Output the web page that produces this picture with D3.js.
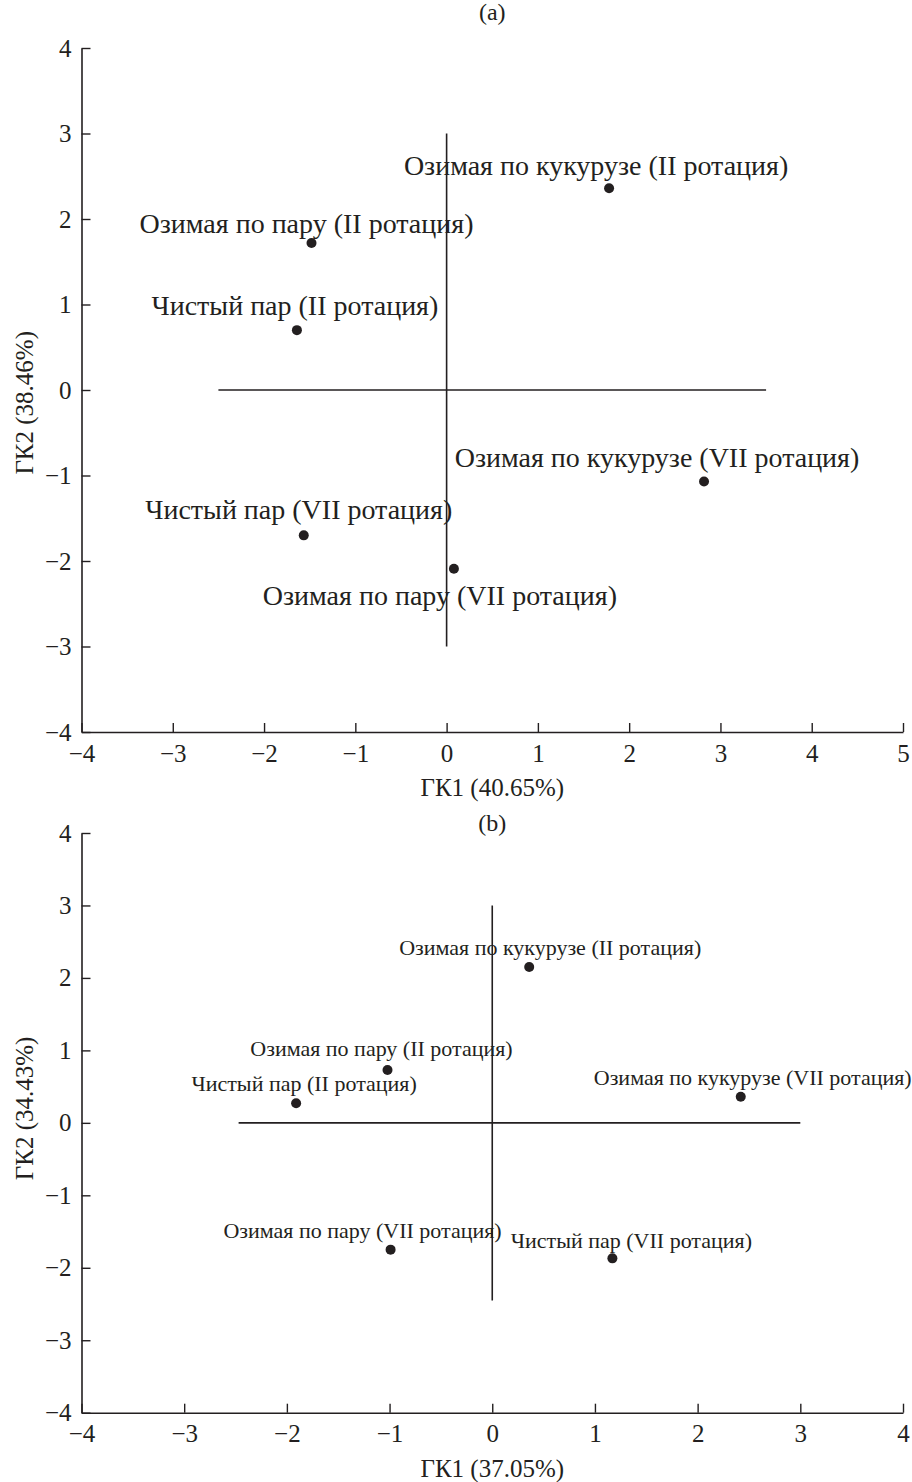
<!DOCTYPE html>
<html>
<head>
<meta charset="utf-8">
<script src="https://cdn.jsdelivr.net/npm/d3@7"></script>
<style>
  html, body { margin: 0; padding: 0; background: #fff; }
  svg { display: block; font-family: "Liberation Serif", "Times New Roman", serif; }
</style>
</head>
<body>
<script>
// ---- Panel (a) data ----
const namesA = [
  "Озимая по кукурузе (II ротация)",
  "Озимая по пару (II ротация)",
  "Чистый пар (II ротация)",
  "Озимая по кукурузе (VII ротация)",
  "Чистый пар (VII ротация)",
  "Озимая по пару (VII ротация)"
];
const gk1A = [1.78, -1.48, -1.64, 2.82, -1.565, 0.08];
const gk2A = [2.36, 1.72, 0.70, -1.07, -1.70, -2.09];

// ---- Panel (b) data ----
const namesB = [
  "Озимая по кукурузе (II ротация)",
  "Озимая по пару (II ротация)",
  "Чистый пар (II ротация)",
  "Озимая по кукурузе (VII ротация)",
  "Озимая по пару (VII ротация)",
  "Чистый пар (VII ротация)"
];
const gk1B = [0.36, -1.02, -1.91, 2.42, -0.99, 1.17];
const gk2B = [2.15, 0.73, 0.27, 0.36, -1.75, -1.87];

// ---- Axis ticks and titles ----
const xTicksA = [-4, -3, -2, -1, 0, 1, 2, 3, 4, 5];
const xTicksB = [-4, -3, -2, -1, 0, 1, 2, 3, 4];
const yTicks = [-4, -3, -2, -1, 0, 1, 2, 3, 4];
const xTitleA = "ГК1 (40.65%)", yTitleA = "ГК2 (38.46%)";
const xTitleB = "ГК1 (37.05%)", yTitleB = "ГК2 (34.43%)";

// ---- Reference cross lines (data units) ----
const crossHA = [-2.5, 3.5], crossVA = [-3, 3];
const crossHB = [-2.47, 3.0], crossVB = [-2.45, 3];

// ---- Label placement relative to each dot (pixels) ----
const labelOffsetA = [[-13, -13], [-5, -10], [-2, -15], [-47, -14], [-5, -16], [-14, 36]];
const labelOffsetB = [[21, -12], [-6, -14], [8, -12], [12, -12], [-28, -12], [19, -10]];

const ink = "#231f20";
const W = 912, H = 1482;

const svg = d3.select("body").append("svg")
  .attr("width", W).attr("height", H);

function panel(cfg) {
  const x = d3.scaleLinear().domain(cfg.xDomain).range([cfg.left, cfg.right]);
  const y = d3.scaleLinear().domain([-4, 4]).range([cfg.bottom, cfg.top]);
  const g = svg.append("g");

  // axes with inward ticks
  const xAxis = d3.axisBottom(x).tickValues(cfg.xTicks)
    .tickSizeInner(-9).tickSizeOuter(0).tickPadding(12)
    .tickFormat(d3.format("d"));
  const yAxis = d3.axisLeft(y).tickValues(yTicks)
    .tickSizeInner(-9).tickSizeOuter(0).tickPadding(10)
    .tickFormat(d3.format("d"));

  const gx = g.append("g").attr("transform", `translate(0,${cfg.bottom})`).call(xAxis);
  const gy = g.append("g").attr("transform", `translate(${cfg.left},0)`).call(yAxis);
  [gx, gy].forEach(a => {
    a.select(".domain").attr("stroke", ink).attr("stroke-width", 1.6);
    a.selectAll(".tick line").attr("stroke", ink).attr("stroke-width", 1.4);
    a.selectAll(".tick text").attr("fill", ink)
      .style("font-family", '"Liberation Serif", serif').style("font-size", "25px");
  });

  // cross lines through origin
  g.append("line")
    .attr("x1", x(cfg.crossH[0])).attr("x2", x(cfg.crossH[1]))
    .attr("y1", y(0)).attr("y2", y(0))
    .attr("stroke", ink).attr("stroke-width", 1.6);
  g.append("line")
    .attr("x1", x(0)).attr("x2", x(0))
    .attr("y1", y(cfg.crossV[0])).attr("y2", y(cfg.crossV[1]))
    .attr("stroke", ink).attr("stroke-width", 1.6);

  // points
  const pts = cfg.names.map((n, i) => ({ name: n, gx: cfg.gx[i], gy: cfg.gy[i], off: cfg.offsets[i] }));
  g.selectAll("circle.pt").data(pts).join("circle")
    .attr("class", "pt")
    .attr("cx", d => x(d.gx)).attr("cy", d => y(d.gy))
    .attr("r", 5).attr("fill", ink);

  g.selectAll("text.lbl").data(pts).join("text")
    .attr("class", "lbl")
    .attr("x", d => x(d.gx) + d.off[0])
    .attr("y", d => y(d.gy) + d.off[1])
    .attr("text-anchor", "middle")
    .attr("fill", ink)
    .style("font-size", cfg.labelSize + "px")
    .text(d => d.name);

  // axis titles and panel letter
  const cx = (cfg.left + cfg.right) / 2;
  g.append("text").attr("x", cx).attr("y", cfg.bottom + 64)
    .attr("text-anchor", "middle").attr("fill", ink).style("font-size", "25px")
    .text(cfg.xTitle);
  g.append("text")
    .attr("transform", `translate(33,${y(cfg.yTitleAt)}) rotate(-90)`)
    .attr("text-anchor", "middle").attr("fill", ink).style("font-size", "25px")
    .text(cfg.yTitle);
  g.append("text").attr("x", cx).attr("y", cfg.letterY)
    .attr("text-anchor", "middle").attr("fill", ink).style("font-size", "24px")
    .text(cfg.letter);
}

panel({
  xDomain: [-4, 5], xTicks: xTicksA, left: 81.5, right: 903, top: 48, bottom: 732,
  names: namesA, gx: gk1A, gy: gk2A, offsets: labelOffsetA, labelSize: 28,
  crossH: crossHA, crossV: crossVA,
  xTitle: xTitleA, yTitle: yTitleA, yTitleAt: -0.15, letter: "(a)", letterY: 20
});

panel({
  xDomain: [-4, 4], xTicks: xTicksB, left: 81.5, right: 903, top: 833, bottom: 1412.7,
  names: namesB, gx: gk1B, gy: gk2B, offsets: labelOffsetB, labelSize: 22,
  crossH: crossHB, crossV: crossVB,
  xTitle: xTitleB, yTitle: yTitleB, yTitleAt: 0.2, letter: "(b)", letterY: 831
});
</script>
</body>
</html>
